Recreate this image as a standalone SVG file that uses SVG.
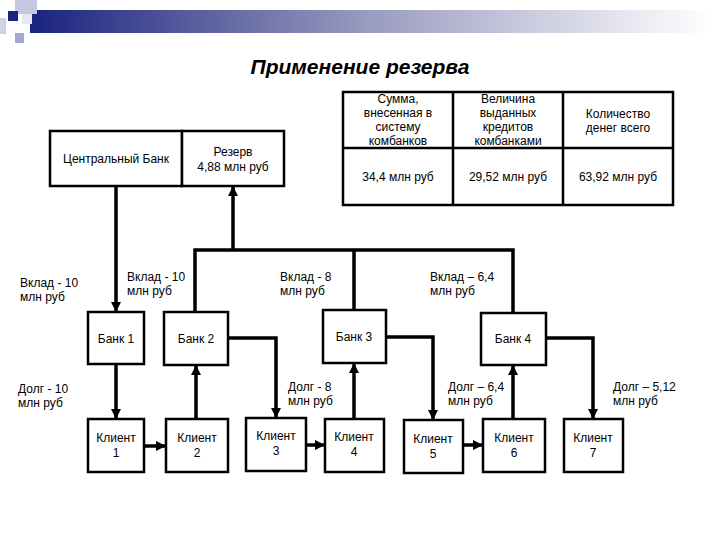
<svg xmlns="http://www.w3.org/2000/svg" width="720" height="540" viewBox="0 0 720 540">
<defs>
<linearGradient id="g" x1="0" x2="1" y1="0" y2="0"><stop offset="0" stop-color="#1a237e"/><stop offset="0.5" stop-color="#9a9cc0"/><stop offset="1" stop-color="#ffffff"/></linearGradient>
<marker id="a" viewBox="0 0 10 10" refX="9" refY="5" markerWidth="3" markerHeight="3" orient="auto"><path d="M0,0L10,5L0,10z" fill="#000"/></marker>
</defs>
<style>
.b{fill:#fff;stroke:#000;stroke-width:2.5}
.t{font-family:"Liberation Sans",Arial,sans-serif;font-size:12px;fill:#000}
.c{text-anchor:middle}
.l{fill:none;stroke:#000;stroke-width:3.5;marker-end:url(#a)}
.p{fill:none;stroke:#000;stroke-width:3.5}
</style>
<rect width="720" height="540" fill="#fff"/>
<g id="header">
<rect x="30" y="10" width="680" height="23" fill="url(#g)"/>
<rect x="15" y="0" width="22" height="14" fill="#c5c8e0"/>
<rect x="8" y="11" width="10" height="10" fill="#1a237e"/>
<rect x="22" y="14" width="10" height="10" fill="#e8e8f2"/>
<rect x="15" y="33" width="9" height="10" fill="#a5a8cc"/>
<rect x="0" y="18" width="6" height="16" fill="#d0d2e6"/>
</g>
<text x="360" y="74" class="t c" style="font-size:21px;font-style:italic;font-weight:bold">Применение резерва</text>
<g id="table">
<rect x="343" y="92" width="330" height="113" class="b"/>
<path d="M343 148H673M453 92V205M563 92V205" stroke="#000" stroke-width="2.5"/>
<text class="t c"><tspan x="398" y="103">Сумма,</tspan><tspan x="398" y="117">внесенная в</tspan><tspan x="398" y="131">систему</tspan><tspan x="398" y="145">комбанков</tspan></text>
<text class="t c"><tspan x="508" y="103">Величина</tspan><tspan x="508" y="117">выданных</tspan><tspan x="508" y="131">кредитов</tspan><tspan x="508" y="145">комбанками</tspan></text>
<text class="t c"><tspan x="618" y="118">Количество</tspan><tspan x="618" y="132">денег всего</tspan></text>
<text x="398" y="181" class="t c">34,4 млн руб</text>
<text x="508" y="181" class="t c">29,52 млн руб</text>
<text x="618" y="181" class="t c">63,92 млн руб</text>
</g>
<g id="cb"><rect x="50" y="131" width="132" height="55" class="b"/><text x="116" y="163" class="t c">Центральный Банк</text></g>
<g id="reserve"><rect x="182" y="131" width="102" height="55" class="b"/><text class="t c"><tspan x="233" y="156">Резерв</tspan><tspan x="233" y="171">4,88 млн руб</tspan></text></g>
<g id="bank1"><rect x="88" y="312" width="56" height="52" class="b"/><text x="116" y="343" class="t c">Банк 1</text></g>
<g id="bank2"><rect x="164" y="312" width="64" height="53" class="b"/><text x="196" y="343" class="t c">Банк 2</text></g>
<g id="bank3"><rect x="323" y="310" width="63" height="53" class="b"/><text x="354" y="341" class="t c">Банк 3</text></g>
<g id="bank4"><rect x="481" y="313" width="65" height="52" class="b"/><text x="513" y="343" class="t c">Банк 4</text></g>
<g id="client1"><rect x="88" y="419" width="56" height="53" class="b"/><text class="t c"><tspan x="116" y="442">Клиент</tspan><tspan x="116" y="457">1</tspan></text></g>
<g id="client2"><rect x="166" y="419" width="62" height="53" class="b"/><text class="t c"><tspan x="197" y="442">Клиент</tspan><tspan x="197" y="457">2</tspan></text></g>
<g id="client3"><rect x="246" y="418" width="60" height="53" class="b"/><text class="t c"><tspan x="276" y="440">Клиент</tspan><tspan x="276" y="455">3</tspan></text></g>
<g id="client4"><rect x="325" y="419" width="59" height="53" class="b"/><text class="t c"><tspan x="354" y="441">Клиент</tspan><tspan x="354" y="456">4</tspan></text></g>
<g id="client5"><rect x="404" y="420" width="59" height="53" class="b"/><text class="t c"><tspan x="433" y="443">Клиент</tspan><tspan x="433" y="458">5</tspan></text></g>
<g id="client6"><rect x="483" y="419" width="62" height="53" class="b"/><text class="t c"><tspan x="514" y="442">Клиент</tspan><tspan x="514" y="457">6</tspan></text></g>
<g id="client7"><rect x="564" y="419" width="59" height="53" class="b"/><text class="t c"><tspan x="593" y="442">Клиент</tspan><tspan x="593" y="457">7</tspan></text></g>
<g id="connectors">
<path class="l" d="M116 186V311"/>
<path class="p" d="M195 312V250H513V313M354 250V310"/>
<path class="l" d="M233 250V187"/>
<path class="l" d="M116 364V418"/>
<path class="l" d="M196 419V366"/>
<path class="l" d="M228 338H276V417"/>
<path class="l" d="M144 446H165"/>
<path class="l" d="M306 445H324"/>
<path class="l" d="M354 419V364"/>
<path class="l" d="M386 337H433V419"/>
<path class="l" d="M463 445H482"/>
<path class="l" d="M513 419V366"/>
<path class="l" d="M546 338H593V418"/>
</g>
<g id="labels">
<text class="t"><tspan x="20" y="287">Вклад - 10</tspan><tspan x="20" y="301">млн руб</tspan></text>
<text class="t"><tspan x="127" y="281">Вклад - 10</tspan><tspan x="127" y="295">млн руб</tspan></text>
<text class="t"><tspan x="280" y="281">Вклад - 8</tspan><tspan x="280" y="295">млн руб</tspan></text>
<text class="t"><tspan x="430" y="281">Вклад – 6,4</tspan><tspan x="430" y="295">млн руб</tspan></text>
<text class="t"><tspan x="18" y="393">Долг - 10</tspan><tspan x="18" y="407">млн руб</tspan></text>
<text class="t"><tspan x="288" y="391">Долг - 8</tspan><tspan x="288" y="405">млн руб</tspan></text>
<text class="t"><tspan x="448" y="391">Долг – 6,4</tspan><tspan x="448" y="405">млн руб</tspan></text>
<text class="t"><tspan x="613" y="391">Долг – 5,12</tspan><tspan x="613" y="405">млн руб</tspan></text>
</g>
</svg>
